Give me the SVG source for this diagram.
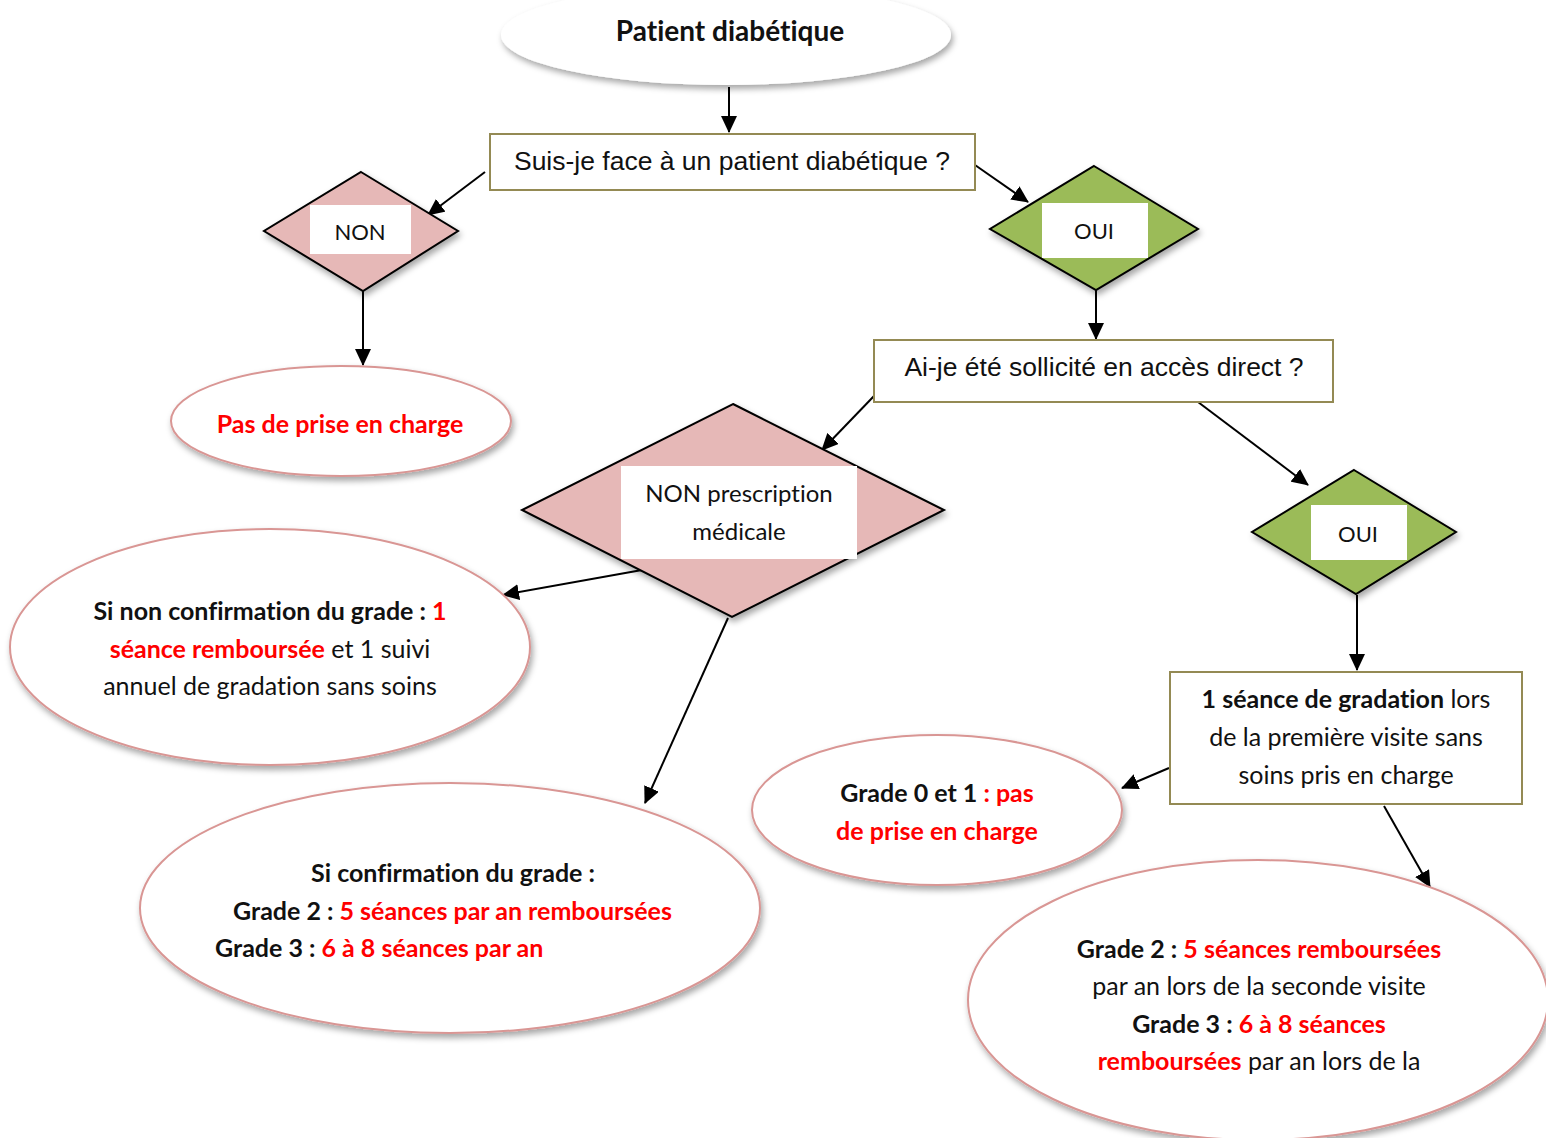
<svg xmlns="http://www.w3.org/2000/svg" width="1546" height="1138" viewBox="0 0 1546 1138">
<defs>
<style>
.cal{font-family:Lato,"Noto Sans","Liberation Sans",sans-serif;font-size:25px;fill:#111;font-variant-ligatures:none}
.sm{font-size:22px}
.b{font-weight:bold}
.r{fill:#ff0000}
.ar{font-family:"Liberation Sans",Arial,sans-serif;font-size:26.5px;fill:#111}
.box{fill:#fff;stroke:#948a54;stroke-width:2}
.pink{fill:#e6b8b7;stroke:#000;stroke-width:2}
.green{fill:#9bbb59;stroke:#000;stroke-width:2}
.ell{fill:#fff;stroke:#d99694;stroke-width:2}
.lbl{fill:#fff}
.conn line{stroke:#000;stroke-width:2}
</style>
<filter id="sh" x="-10%" y="-10%" width="125%" height="135%">
<feDropShadow dx="2" dy="4" stdDeviation="3" flood-color="#000" flood-opacity="0.35"/>
</filter>
<marker id="ah" markerUnits="userSpaceOnUse" markerWidth="18" markerHeight="16" refX="16" refY="8" orient="auto">
<path d="M0,0 L17,8 L0,16 Z" fill="#000"/>
</marker>
</defs>
<rect width="1546" height="1138" fill="#fff"/>

<g class="conn">
<line x1="729" y1="87" x2="729" y2="132" marker-end="url(#ah)"/>
<line x1="485" y1="172" x2="428" y2="215" marker-end="url(#ah)"/>
<line x1="363" y1="291" x2="363" y2="365" marker-end="url(#ah)"/>
<line x1="975" y1="165" x2="1028" y2="202" marker-end="url(#ah)"/>
<line x1="1096" y1="290" x2="1096" y2="339" marker-end="url(#ah)"/>
<line x1="874" y1="396" x2="822" y2="450" marker-end="url(#ah)"/>
<line x1="642" y1="570" x2="503" y2="595" marker-end="url(#ah)"/>
<line x1="728" y1="618" x2="645" y2="803" marker-end="url(#ah)"/>
<line x1="1198" y1="402" x2="1308" y2="485" marker-end="url(#ah)"/>
<line x1="1357" y1="595" x2="1357" y2="670" marker-end="url(#ah)"/>
<line x1="1169" y1="768" x2="1122" y2="788" marker-end="url(#ah)"/>
<line x1="1384" y1="806" x2="1430" y2="887" marker-end="url(#ah)"/>
</g>

<g id="start">
<ellipse cx="726" cy="35" rx="225" ry="50" fill="#fff" filter="url(#sh)"/>
<text class="cal b" x="730" y="41" text-anchor="middle" style="font-size:28px">Patient diabétique</text>
</g>

<g id="q1">
<rect class="box" x="490" y="134" width="485" height="56"/>
<text class="ar" x="732" y="170" text-anchor="middle">Suis-je face à un patient diabétique ?</text>
</g>

<g id="non1">
<polygon class="pink" points="361,172 458,231 363,291 264,231" filter="url(#sh)"/>
<rect class="lbl" x="310" y="205" width="101" height="49"/>
<text class="cal sm" x="360" y="240" text-anchor="middle">NON</text>
</g>

<g id="nocare1">
<ellipse class="ell" cx="341" cy="421" rx="170" ry="55" filter="url(#sh)"/>
<text class="cal b r" x="340" y="433" text-anchor="middle">Pas de prise en charge</text>
</g>

<g id="oui1">
<polygon class="green" points="1094,166 1198,229 1096,290 990,229" filter="url(#sh)"/>
<rect class="lbl" x="1042" y="203" width="106" height="55"/>
<text class="cal sm" x="1094" y="239" text-anchor="middle">OUI</text>
</g>

<g id="q2">
<rect class="box" x="874" y="340" width="459" height="62"/>
<text class="ar" x="1104" y="376" text-anchor="middle">Ai-je été sollicité en accès direct ?</text>
</g>

<g id="nonpresc">
<polygon class="pink" points="733,404 944,510 732,617 522,510" filter="url(#sh)"/>
<rect class="lbl" x="621" y="466" width="236" height="93"/>
<text class="cal" x="739" y="502" text-anchor="middle" style="font-size:24px">NON prescription</text>
<text class="cal" x="739" y="540" text-anchor="middle" style="font-size:24px">médicale</text>
</g>

<g id="nonconf">
<ellipse class="ell" cx="270" cy="647" rx="260" ry="118" filter="url(#sh)"/>
<text class="cal" x="270" y="620" text-anchor="middle"><tspan class="b">Si non confirmation du grade : </tspan><tspan class="b r">1</tspan></text>
<text class="cal" x="270" y="658" text-anchor="middle"><tspan class="b r">séance remboursée</tspan> et 1 suivi</text>
<text class="cal" x="270" y="695" text-anchor="middle">annuel de gradation sans soins</text>
</g>

<g id="conf">
<ellipse class="ell" cx="450" cy="908" rx="310" ry="125" filter="url(#sh)"/>
<text class="cal b" x="453" y="882" text-anchor="middle">Si confirmation du grade :</text>
<text class="cal b" x="233" y="920">Grade 2 : <tspan class="r">5 séances par an remboursées</tspan></text>
<text class="cal b" x="215" y="957">Grade 3 : <tspan class="r">6 à 8 séances par an</tspan></text>
</g>

<g id="oui2">
<polygon class="green" points="1354,470 1456,532 1356,594 1252,532" filter="url(#sh)"/>
<rect class="lbl" x="1311" y="505" width="96" height="55"/>
<text class="cal sm" x="1358" y="542" text-anchor="middle">OUI</text>
</g>

<g id="seance">
<rect class="box" x="1170" y="672" width="352" height="132"/>
<text class="cal" x="1346" y="708" text-anchor="middle"><tspan class="b">1 séance de gradation</tspan> lors</text>
<text class="cal" x="1346" y="746" text-anchor="middle">de la première visite sans</text>
<text class="cal" x="1346" y="784" text-anchor="middle">soins pris en charge</text>
</g>

<g id="grade01">
<ellipse class="ell" cx="937" cy="810" rx="185" ry="75" filter="url(#sh)"/>
<text class="cal b" x="937" y="802" text-anchor="middle">Grade 0 et 1 <tspan class="r">: pas</tspan></text>
<text class="cal b r" x="937" y="840" text-anchor="middle">de prise en charge</text>
</g>

<g id="grade23">
<ellipse class="ell" cx="1258" cy="1000" rx="290" ry="140" filter="url(#sh)"/>
<text class="cal b" x="1259" y="958" text-anchor="middle">Grade 2 : <tspan class="r">5 séances remboursées</tspan></text>
<text class="cal" x="1259" y="995" text-anchor="middle">par an lors de la seconde visite</text>
<text class="cal b" x="1259" y="1033" text-anchor="middle">Grade 3 : <tspan class="r">6 à 8 séances</tspan></text>
<text class="cal" x="1259" y="1070" text-anchor="middle"><tspan class="b r">remboursées</tspan> par an lors de la</text>
</g>
</svg>
